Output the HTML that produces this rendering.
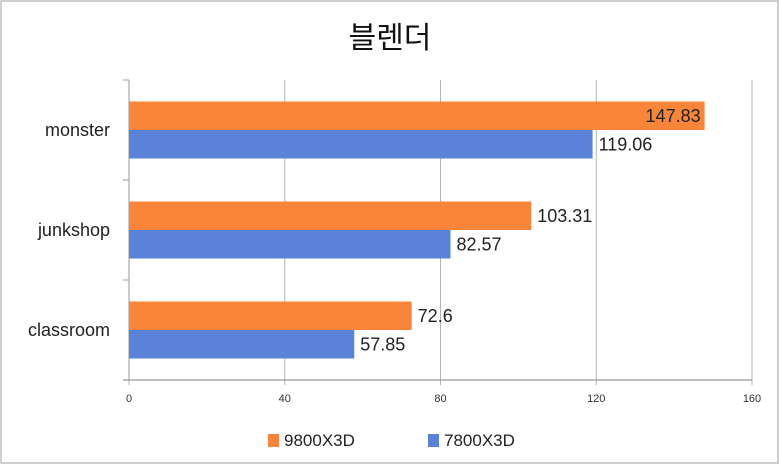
<!DOCTYPE html>
<html><head><meta charset="utf-8"><style>
body{margin:0;background:#fff}
svg{display:block;font-family:"Liberation Sans","Noto Sans CJK KR",sans-serif}
</style></head><body>
<svg width="780" height="465" id="c">
<rect x="1" y="1" width="777" height="462" fill="#fff" stroke="#bdbdbd" stroke-width="1.5"/>
<text x="390" y="48" text-anchor="middle" font-size="30" fill="#111" font-family="'Noto Sans CJK KR',sans-serif">블렌더</text>
<g id="grid"></g><g id="bars"></g><g id="labels"></g>
<rect x="268" y="434" width="11" height="13" fill="#f9853b"/>
<text x="284" y="446" font-size="17" fill="#222">9800X3D</text>
<rect x="428" y="434" width="11" height="13" fill="#5b82d9"/>
<text x="444" y="446" font-size="17" fill="#222">7800X3D</text>
</svg>
<script>
const categories=["monster","junkshop","classroom"];
const s9800=[147.83,103.31,72.6];
const s7800=[119.06,82.57,57.85];
const ticks=[0,40,80,120,160];
const NS="http://www.w3.org/2000/svg";
const x0=129,x1=752,yTop=80,yBot=380,maxV=160;
const xs=v=>x0+(x1-x0)*v/maxV;
const band=(yBot-yTop)/categories.length;
function mk(tag,attrs,parent){const e=document.createElementNS(NS,tag);for(const k in attrs)e.setAttribute(k,attrs[k]);parent.appendChild(e);return e;}
const G=document.getElementById('grid'),B=document.getElementById('bars'),L=document.getElementById('labels');
ticks.forEach(t=>{
 const l=mk('line',{x1:xs(t),x2:xs(t),y1:yTop,y2:yBot+5,stroke:'#b3b3b3','stroke-width':1},G);
 
 
 const tx=mk('text',{x:xs(t),y:402,'text-anchor':'middle','font-size':11,fill:'#333'},G);
 tx.textContent=t;
 
 
});
const ax=mk('line',{x1:x0-6,x2:x1,y1:yBot,y2:yBot,stroke:'#9a9a9a','stroke-width':1.2},G);


const ay=mk('line',{x1:x0,x2:x0,y1:yTop,y2:yBot,stroke:'#9a9a9a','stroke-width':1},G);


for(let i=0;i<=categories.length;i++){
 const t=mk('line',{x1:x0-6,x2:x0,y1:yTop+i*band,y2:yTop+i*band,stroke:'#9a9a9a'},G);
 
 
}
const bh=28.5;
categories.forEach((c,i)=>{
 const cy=yTop+band*i+band/2;
 const lb=mk('text',{x:110,y:cy+6,'text-anchor':'end','font-size':18,fill:'#222'},L);
 lb.textContent=c;
 
 
 [[s9800,'#f9853b','9800x3d',-bh],[s7800,'#5b82d9','7800x3d',0]].forEach(([s,col,nm,off])=>{
  const v=s[i];
  const r=mk('rect',{x:x0,y:cy+off,width:xs(v)-x0,height:bh,fill:col},B);
  
  
  const inside=v>140;
  const t=mk('text',{x:inside?xs(v)-4:xs(v)+6,y:cy+off+bh/2+6,'text-anchor':inside?'end':'start','font-size':18,fill:'#222'},L);
  t.textContent=v;
  
  
 });
});
</script>
</body></html>
